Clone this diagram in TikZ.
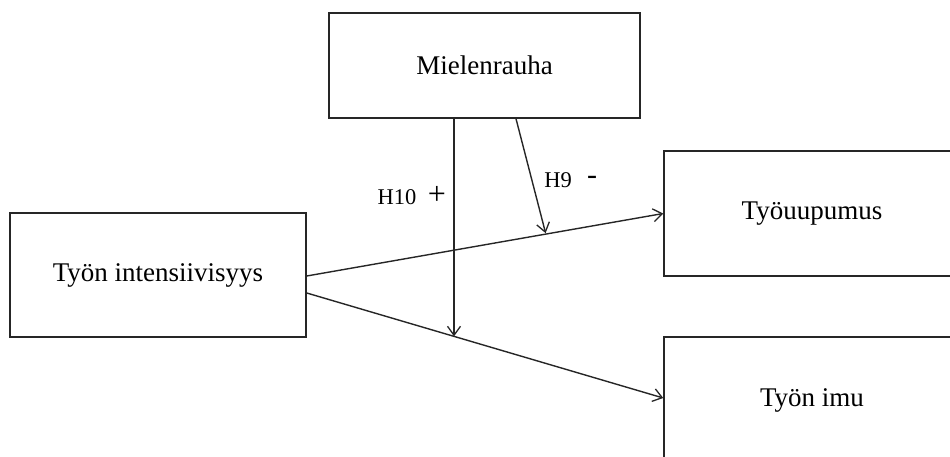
\documentclass[tikz,border=0pt]{standalone}
\usepackage{fontspec}
\setmainfont{Liberation Serif}
\usetikzlibrary{arrows.meta,calc}
\begin{document}
\begin{tikzpicture}[x=1pt,y=-1pt,
  box/.style={draw=black!85,line width=1.5pt,rectangle,inner sep=0pt,font=\fontsize{27}{32}\selectfont},
  link/.style={draw=black!85,line width=1.4pt},
  arr/.style={link,-{Straight Barb[length=9pt,width=13pt,line width=1.3pt]}},
  lab/.style={font=\fontsize{22.5}{26}\selectfont,inner sep=0pt}]
\useasboundingbox (0,0) rectangle (950,457);
\clip (0,0) rectangle (950,457);
\node[box,minimum width=311pt,minimum height=105pt] (mr) at (484.5,65.5) {Mielenrauha};
\node[box,minimum width=296pt,minimum height=124pt] (ti) at (158,275) {Työn intensiivisyys};
\node[box,minimum width=296pt,minimum height=125pt] (tu) at (812,213.5) {Työuupumus};
\node[box,minimum width=296pt,minimum height=126pt] (im) at (812,400) {Työn imu};
\coordinate (s1) at ($(ti.east)+(0,1)$);
\coordinate (s2) at ($(ti.east)+(0,18)$);
\coordinate (e2) at ($(im.west)+(0,-2)$);
\draw[arr] (s1) -- (tu.west) coordinate[pos=0.67] (p9);
\draw[arr] (s2) -- (e2) coordinate[pos=0.413] (p10);
\coordinate (m10) at ($(mr.south)+(-30.5,0)$);
\coordinate (m9) at ($(mr.south)+(31.5,0)$);
\draw[arr] (m10) -- (m10 |- p10);
\draw[arr] (m9) -- ($(p9)+(0,-1)$);
\node[lab] (h10) at (397,197) {H10};
\node[lab,font=\fontsize{32}{36}\selectfont] (plus) at (437,195) {+};
\node[lab] (h9) at (558,180) {H9};
\node[lab,font=\fontsize{30}{34}\selectfont] (minus) at (592,180) {-};
\end{tikzpicture}
\end{document}
